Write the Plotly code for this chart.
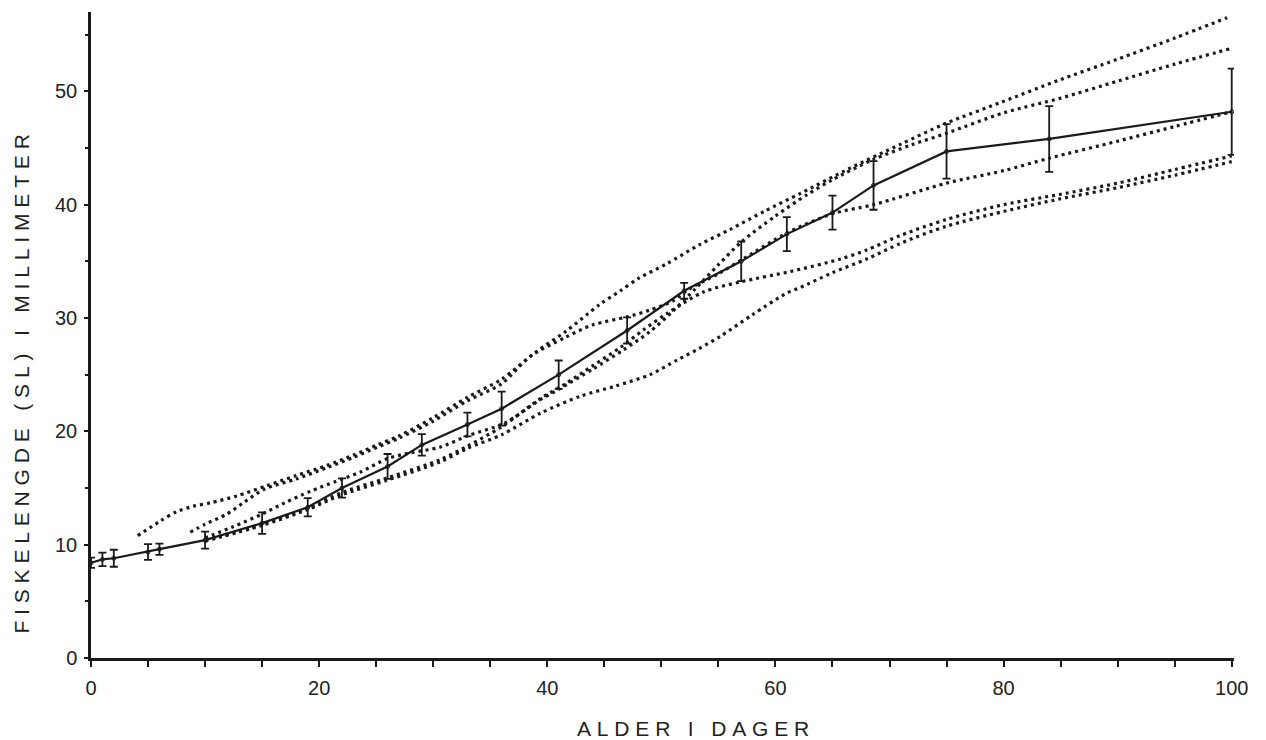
import plotly.graph_objects as go

# ---- mean curve with error bars (solid) ----
mean_days = [0, 1, 2, 5, 6, 10, 15, 19, 22, 26, 29, 33, 36, 41, 47, 52, 57, 61, 65, 68.6, 75, 84, 100]
mean_len = [8.4, 8.7, 8.8, 9.35, 9.6, 10.4, 11.9, 13.3, 15.0, 16.9, 18.8, 20.6, 22.0, 25.0, 28.9,
            32.4, 35.0, 37.4, 39.3, 41.7, 44.7, 45.8, 48.2]
mean_err = [0.45, 0.6, 0.75, 0.7, 0.5, 0.75, 0.95, 0.8, 0.85, 1.1, 0.95, 1.05, 1.5, 1.25, 1.15,
            0.7, 1.75, 1.5, 1.5, 2.15, 2.4, 2.9, 3.8]

# ---- individual growth curves (dotted) ----
c1_days = [4.1, 6.1, 7.5, 9, 10.5, 12.8, 15.4, 18, 20.7, 23, 25.1, 27, 30, 33, 36, 39, 41.6, 44.6,
           46.4, 48, 50.5, 53.4, 56, 59, 62.2, 66.5, 70.9, 75, 79.7, 84.9, 89.9, 95, 99.6]
c1_len = [10.8, 12.1, 12.9, 13.4, 13.7, 14.3, 15.2, 16.1, 17.0, 17.9, 18.8, 19.6, 21.2, 23.0, 24.6,
          27.0, 28.8, 31.2, 32.4, 33.5, 34.8, 36.5, 37.8, 39.4, 41.0, 43.2, 45.3, 47.2, 49.0, 51.0,
          52.8, 54.7, 56.5]

c2_days = [8.7, 10, 11.9, 13.5, 15.2, 18, 20.7, 23, 25.1, 27, 30, 33, 36, 38.5, 41.6, 44, 47, 49,
           51, 52.5, 55, 57, 61, 65, 68.6, 75, 80, 84, 90, 95, 100]
c2_len = [11.1, 11.8, 12.7, 13.8, 14.9, 15.8, 16.8, 17.7, 18.6, 19.4, 20.9, 22.7, 24.2, 26.6, 28.3,
          29.4, 30.1, 30.7, 31.5, 32.6, 33.9, 35.1, 37.5, 39.2, 40.0, 41.9, 43.0, 44.1, 45.6, 46.9, 48.2]

c3_days = [10, 12.5, 15, 17, 19.2, 21.5, 23.6, 26, 28, 30.6, 33, 36.2, 39.4, 41, 44, 46.7, 49, 51,
           53, 55, 57, 60, 62.8, 65, 68.6, 72, 75, 80, 85, 90, 95, 100]
c3_len = [10.6, 11.6, 12.7, 13.7, 14.7, 15.6, 16.4, 17.6, 18.1, 18.6, 19.6, 20.7, 22.8, 23.7, 25.5,
          27.2, 28.8, 30.6, 32.6, 34.7, 36.7, 39.0, 40.9, 42.2, 44.0, 45.3, 46.3, 48.1, 49.4, 50.9,
          52.4, 53.8]

c4_days = [10, 15, 19, 22, 26, 30.6, 33, 36, 39.4, 41.6, 44, 46.4, 48.5, 50.5, 53.7, 57, 61.3, 65.7,
           68, 71, 75, 80, 84.9, 90, 95, 100]
c4_len = [10.4, 11.8, 13.2, 14.6, 15.9, 17.5, 18.7, 20.4, 22.9, 24.2, 25.8, 27.4, 29.0, 30.4, 32.3,
          33.2, 34.1, 35.2, 36.0, 37.3, 38.7, 40.0, 40.9, 41.9, 43.1, 44.3]

c5_days = [10, 15, 19, 22, 26, 30.6, 33, 36, 39.4, 42.9, 46, 49, 51.4, 53.3, 55.2, 58, 61, 62.2, 65,
           68, 71, 75, 80, 84.9, 90, 95, 100]
c5_len = [10.3, 11.7, 13.1, 14.4, 15.7, 17.3, 18.5, 19.7, 21.6, 23.1, 24.0, 25.0, 26.3, 27.3, 28.4,
          30.3, 32.2, 32.7, 34.0, 35.2, 36.6, 38.1, 39.4, 40.5, 41.5, 42.6, 43.8]

x_title = "A\u00a0L\u00a0D\u00a0E\u00a0R\u00a0\u00a0\u00a0I\u00a0\u00a0\u00a0D\u00a0A\u00a0G\u00a0E\u00a0R"
y_words = ["FISKELENGDE", "(SL)", "I", "MILLIMETER"]
y_title = "\u00a0\u00a0\u00a0".join("\u00a0".join(w) for w in y_words)

INK = "#1a1a1a"
fig = go.Figure()

for dx, dy in [(c1_days, c1_len), (c2_days, c2_len), (c3_days, c3_len),
               (c4_days, c4_len), (c5_days, c5_len)]:
    fig.add_trace(go.Scatter(
        x=dx, y=dy, mode="lines",
        line=dict(color=INK, width=3.2, dash="3px,4px", shape="spline", smoothing=0.8),
        hoverinfo="skip", showlegend=False))

fig.add_trace(go.Scatter(
    x=mean_days, y=mean_len, mode="lines+markers",
    line=dict(color=INK, width=2.2),
    marker=dict(symbol="circle-open", size=4, color=INK, line=dict(width=1)),
    error_y=dict(type="data", array=mean_err, visible=True, color=INK, thickness=1.8, width=4),
    showlegend=False))

tick_font = dict(family="Liberation Sans, Arial, sans-serif", size=20, color="#222")
title_font = dict(family="Liberation Sans, Arial, sans-serif", size=21, color="#222")

fig.update_layout(
    width=1266, height=740,
    margin=dict(l=91, r=32, t=12, b=82),
    paper_bgcolor="white", plot_bgcolor="white",
    showlegend=False,
    xaxis=dict(range=[0, 100.2], dtick=20, tick0=0, showgrid=False, zeroline=False,
               showline=True, linecolor=INK, linewidth=2.5,
               ticks="outside", ticklen=6, tickwidth=1.5, tickcolor=INK,
               minor=dict(dtick=5, ticks="outside", ticklen=6, tickwidth=1.5, tickcolor=INK, showgrid=False),
               tickfont=tick_font, ticklabelstandoff=4),
    yaxis=dict(range=[0, 57], dtick=10, tick0=0, showgrid=False, zeroline=False,
               showline=True, linecolor=INK, linewidth=2.5,
               ticks="outside", ticklen=4, tickwidth=1.5, tickcolor=INK,
               minor=dict(dtick=5, ticks="outside", ticklen=3, tickwidth=1.5, tickcolor=INK, showgrid=False),
               tickfont=tick_font, ticklabelstandoff=3),
    annotations=[
        dict(text=x_title, xref="paper", yref="paper", x=(693 - 91) / 1143, y=-(729 - 658.3) / 645.8,
             xanchor="center", yanchor="middle", showarrow=False, font=title_font),
        dict(text=y_title, xref="paper", yref="paper", x=-(91 - 22) / 1143, y=(658.3 - 385) / 645.8,
             xanchor="center", yanchor="middle", showarrow=False, textangle=-90, font=title_font),
    ],
)

fig.write_html("out.html")
